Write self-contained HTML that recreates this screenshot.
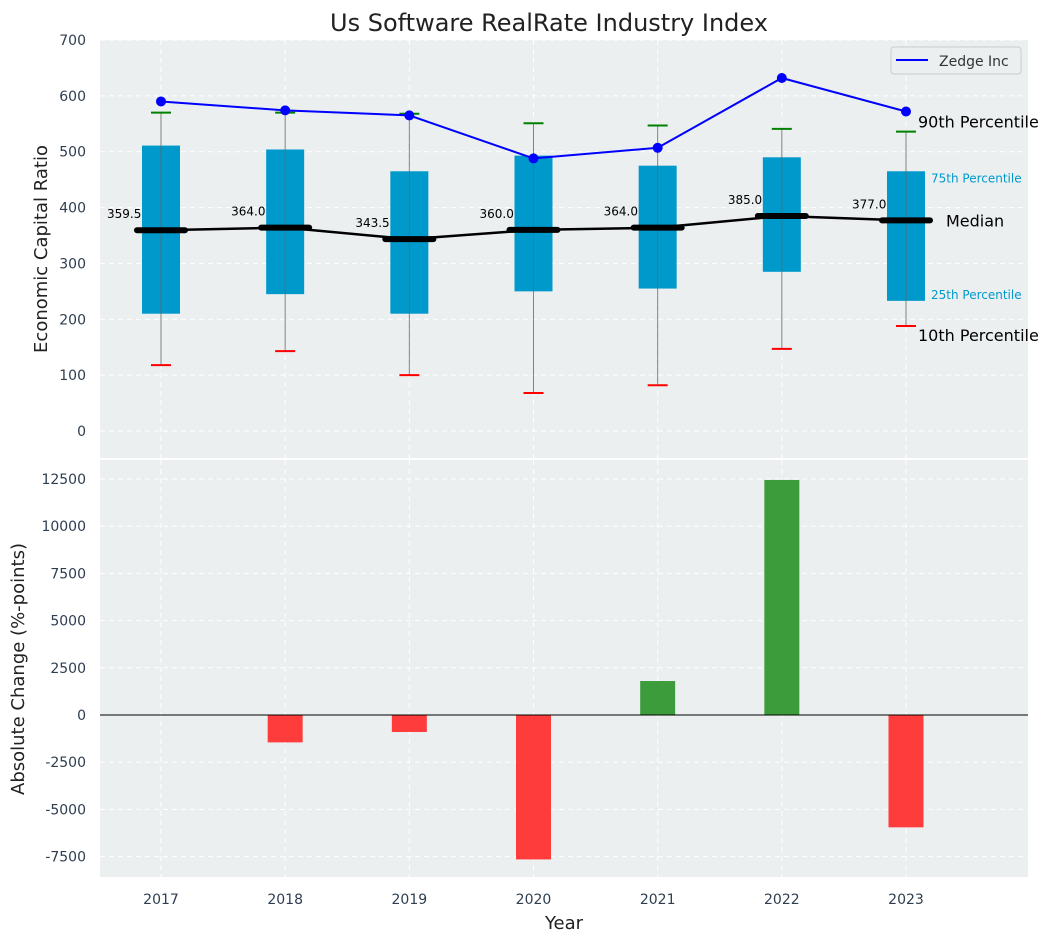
<!DOCTYPE html>
<html><head><meta charset="utf-8"><style>
body{margin:0;background:#fff;font-family:"DejaVu Sans","Liberation Sans",sans-serif}
svg{display:block}
</style></head><body>
<svg id="c" width="1053" height="942" xmlns="http://www.w3.org/2000/svg"></svg>
<script>
const years=[2017,2018,2019,2020,2021,2022,2023];
const p25=[210,245,210,250,255,285,233];
const p75=[511,504,465,493,475,490,465];
const p10=[118,143,100,68,82,147,188];
const p90=[570,570,568,551,547,541,536];
const medians=[359.5,364,343.5,360,364,385,377];
const zedge=[590,574,565,488,507,632,572];
const changes=[0,-1450,-900,-7650,1800,12450,-5950];
const topTicks=[0,100,200,300,400,500,600,700];
const botTicks=[-7500,-5000,-2500,0,2500,5000,7500,10000,12500];

const S=document.getElementById('c');const NS='http://www.w3.org/2000/svg';
function el(t,a,txt,parent){const e=document.createElementNS(NS,t);for(const k in a)e.setAttribute(k,a[k]);if(txt!==undefined)e.textContent=txt;(parent||S).appendChild(e);return e;}
const L=100,R=1028;
const x=i=>161+(906-161)/6*i;
const yT=v=>431-(431-40)/700*v;
const yB=v=>715-(715-479)/12500*v;

// backgrounds
let e=el('rect',{x:L,y:40,width:R-L,height:418,fill:'#ebeff0'});

e=el('rect',{x:L,y:460,width:R-L,height:417,fill:'#ebeff0'});

// grids
topTicks.forEach(t=>{el('line',{x1:L,x2:R,y1:yT(t),y2:yT(t),stroke:'#fff','stroke-dasharray':'5,4'});
 e=el('text',{x:86,y:yT(t)+5,'text-anchor':'end','font-size':14,fill:'#2e3e50'},t);
 });
botTicks.forEach(t=>{el('line',{x1:L,x2:R,y1:yB(t),y2:yB(t),stroke:'#fff','stroke-dasharray':'5,4'});
 e=el('text',{x:86,y:yB(t)+5,'text-anchor':'end','font-size':14,fill:'#2e3e50'},t);
 });
years.forEach((y,i)=>{el('line',{x1:x(i),x2:x(i),y1:40,y2:458,stroke:'#fff','stroke-dasharray':'5,4'});
 el('line',{x1:x(i),x2:x(i),y1:460,y2:877,stroke:'#fff','stroke-dasharray':'5,4'});
 e=el('text',{x:x(i),y:904,'text-anchor':'middle','font-size':14,fill:'#2e3e50'},y);
 });

// boxes
years.forEach((y,i)=>{
 e=el('rect',{x:x(i)-19,y:yT(p75[i]),width:38,height:yT(p25[i])-yT(p75[i]),fill:'#0099cc'});
 
 el('line',{x1:x(i),x2:x(i),y1:yT(p10[i]),y2:yT(p90[i]),stroke:'#666','stroke-width':1,opacity:0.8});
 el('line',{x1:x(i)-10,x2:x(i)+10,y1:yT(p10[i]),y2:yT(p10[i]),stroke:'red','stroke-width':2});
 el('line',{x1:x(i)-10,x2:x(i)+10,y1:yT(p90[i]),y2:yT(p90[i]),stroke:'green','stroke-width':2});
});
// median line
e=el('polyline',{points:medians.map((m,i)=>x(i)+','+yT(m)).join(' '),fill:'none',stroke:'#000','stroke-width':2.5});

medians.forEach((m,i)=>{el('line',{x1:x(i)-24,x2:x(i)+24,y1:yT(m),y2:yT(m),stroke:'#000','stroke-width':6,'stroke-linecap':'round'});
 e=el('text',{x:x(i)-54,y:yT(m)-12,'font-size':12,fill:'#000'},m.toFixed(1));
 });
// zedge
e=el('polyline',{points:zedge.map((m,i)=>x(i)+','+yT(m)).join(' '),fill:'none',stroke:'blue','stroke-width':2});

zedge.forEach((m,i)=>{e=el('circle',{cx:x(i),cy:yT(m),r:5,fill:'blue'});
 });
// annotations
const li=6,lx=x(li);
[[ '90th Percentile',lx+12,yT(p90[li])-4,16,'#000'],['75th Percentile',lx+25,yT(p75[li])+11,12,'#0099cc'],
 ['Median',lx+40,yT(medians[li])+6,16,'#000'],['25th Percentile',lx+25,yT(p25[li])-2,12,'#0099cc'],
 ['10th Percentile',lx+12,yT(p10[li])+15,16,'#000']].forEach(a=>{
 e=el('text',{x:a[1],y:a[2],'font-size':a[3],fill:a[4]},a[0]);
 });
// legend
const lg=el('g',{});
el('rect',{x:891,y:47,width:130,height:27,rx:3,fill:'#ebeff0',stroke:'#ccc'},undefined,lg);
el('line',{x1:896,x2:928,y1:60,y2:60,stroke:'blue','stroke-width':2},undefined,lg);
el('text',{x:939,y:66,'font-size':14,fill:'#333'},'Zedge Inc',lg);

// bars
changes.forEach((v,i)=>{const y0=yB(0),y1=yB(v);
 e=el('rect',{x:x(i)-17.5,y:Math.min(y0,y1),width:35,height:Math.abs(y1-y0),fill:v>=0?'#3c9c3c':'#ff3c3c'});
 });
el('line',{x1:L,x2:R,y1:yB(0),y2:yB(0),stroke:'#000','stroke-width':1});

// titles
e=el('text',{x:549,y:31,'text-anchor':'middle','font-size':24,fill:'#222'},'Us Software RealRate Industry Index');

e=el('text',{x:47,y:249,'text-anchor':'middle','font-size':18,fill:'#222',transform:'rotate(-90 47 249)'},'Economic Capital Ratio');

e=el('text',{x:24,y:669,'text-anchor':'middle','font-size':18,fill:'#222',transform:'rotate(-90 24 669)'},'Absolute Change (%-points)');

e=el('text',{x:564,y:929,'text-anchor':'middle','font-size':18,fill:'#222'},'Year');

</script>
</body></html>
